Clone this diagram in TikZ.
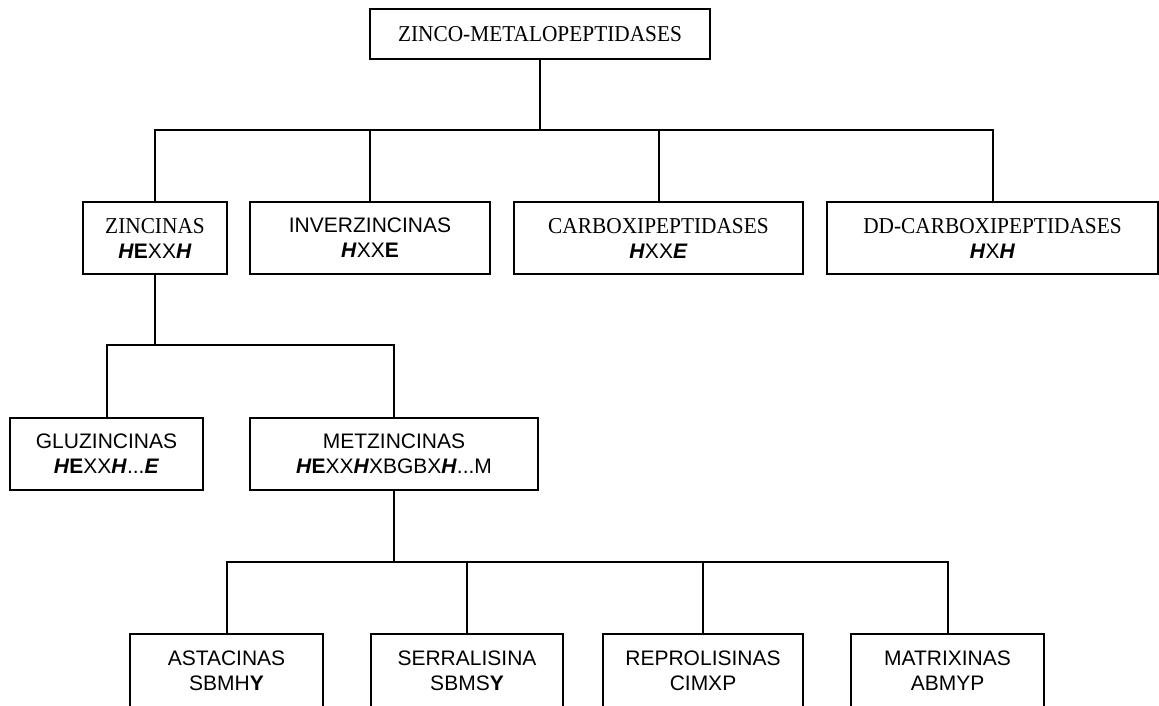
\documentclass[tikz,border=0pt]{standalone}
\usepackage{fontspec}
\setmainfont{Liberation Sans}
\newfontfamily\tnr[FakeStretch=0.94]{Liberation Serif}
\newcommand{\bi}[1]{\textbf{\textit{#1}}}
\newcommand{\bo}[1]{\textbf{#1}}
\newcommand{\tn}[1]{{\tnr\fontsize{22.7}{25}\selectfont #1}}
\begin{document}
\begin{tikzpicture}[x=1pt,y=-1pt,
  box/.style={draw, line width=2pt, inner sep=0pt, outer sep=0pt, align=center, anchor=north west,
    font=\fontsize{21}{25}\selectfont},
  link/.style={line width=2pt}]
\useasboundingbox (0,0) rectangle (1159,705);
\clip (0,0) rectangle (1159,705);
% row 1
\node[box, minimum width=340pt, minimum height=50pt] (root) at (370,9) {\tn{ZINCO-METALOPEPTIDASES}};
% row 2
\node[box, minimum width=144pt, minimum height=72pt] (zin) at (83,202) {\tn{ZINCINAS}\\\bi{H}\bo{E}XX\bi{H}};
\node[box, minimum width=240pt, minimum height=72pt] (inv) at (250,202) {INVERZINCINAS\\\bi{H}XX\bo{E}};
\node[box, minimum width=289pt, minimum height=72pt] (carb) at (514,202) {\tn{CARBOXIPEPTIDASES}\\\bi{H}XX\bi{E}};
\node[box, minimum width=331pt, minimum height=72pt] (dd) at (827,202) {\tn{DD-CARBOXIPEPTIDASES}\\\bi{H}X\bi{H}};
% row 3
\node[box, minimum width=193pt, minimum height=72pt] (gluz) at (10,418) {GLUZINCINAS\\\bi{H}\bo{E}XX\bi{H}...\bi{E}};
\node[box, minimum width=288pt, minimum height=72pt] (metz) at (250,418) {METZINCINAS\\\bi{H}\bo{E}XX\bi{H}XBGBX\bi{H}...M};
% row 4 (boxes run past the lower edge)
\node[box, minimum width=193pt, minimum height=74pt] (ast) at (130,634) {ASTACINAS\\SBMH\bo{Y}};
\node[box, minimum width=192pt, minimum height=74pt] (ser) at (371,634) {SERRALISINA\\SBMS\bo{Y}};
\node[box, minimum width=200pt, minimum height=74pt] (rep) at (603,634) {REPROLISINAS\\CIMXP};
\node[box, minimum width=193pt, minimum height=74pt] (mat) at (851,634) {MATRIXINAS\\ABMYP};
% connectors
\coordinate (b1) at (540,130);
\coordinate (b2) at (155,345);
\coordinate (b3) at (394,562);
\draw[link] (root.south) -- (root.south |- b1);
\draw[link] (zin.north) -- (zin.north |- b1) -- (dd.north |- b1) -- (dd.north);
\draw[link] (inv.north) -- (inv.north |- b1);
\draw[link] (carb.north) -- (carb.north |- b1);
\draw[link] (zin.south) -- (zin.south |- b2);
\draw[link] (gluz.north) -- (gluz.north |- b2) -- (metz.north |- b2) -- (metz.north);
\draw[link] (metz.south) -- (metz.south |- b3);
\draw[link] (ast.north) -- (ast.north |- b3) -- (mat.north |- b3) -- (mat.north);
\draw[link] (ser.north) -- (ser.north |- b3);
\draw[link] (rep.north) -- (rep.north |- b3);
\end{tikzpicture}
\end{document}
